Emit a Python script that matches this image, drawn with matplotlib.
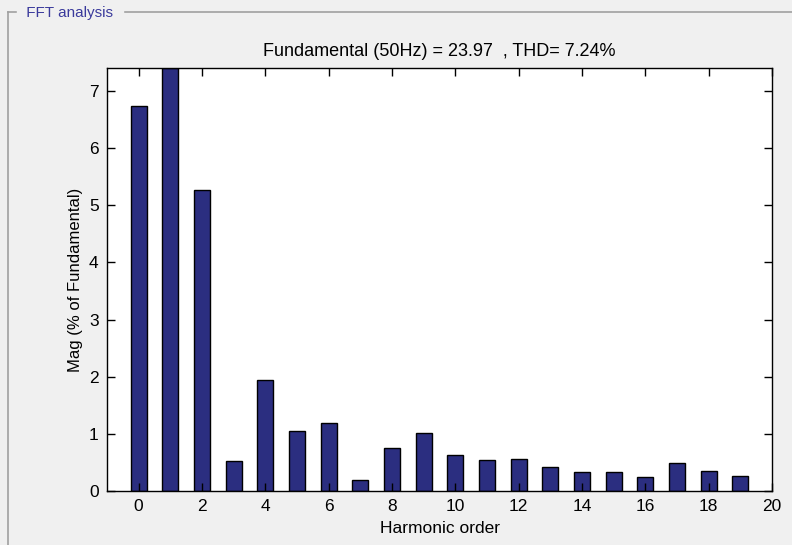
import matplotlib
matplotlib.use("Agg")
import matplotlib.pyplot as plt
from matplotlib.lines import Line2D

plt.rcParams['font.family'] = ['Liberation Sans', 'DejaVu Sans']

harmonic_order = list(range(20))
magnitude = [6.74, 7.40, 5.26, 0.52, 1.94, 1.05, 1.19, 0.20, 0.76, 1.01,
             0.63, 0.54, 0.56, 0.42, 0.33, 0.33, 0.245, 0.49, 0.355, 0.27]
x_ticks = list(range(0, 21, 2))
y_ticks = list(range(0, 8))
title_text = "Fundamental (50Hz) = 23.97  , THD= 7.24%"
panel_title = "FFT analysis"

W, H = 792, 545
fig = plt.figure(figsize=(W / 100, H / 100), dpi=100, facecolor='#F0F0F0')

# panel frame
fig.add_artist(Line2D([8 / W, 8 / W], [1 - 12 / H, 0], color='#A0A0A0', lw=1.2))
fig.add_artist(Line2D([8 / W, 1], [1 - 12 / H, 1 - 12 / H], color='#A0A0A0', lw=1.2))
fig.text(22 / W, 1 - 13 / H, ' ' + panel_title + ' ', color='#3A3A9C', fontsize=11,
         va='center', ha='left', backgroundcolor='#F0F0F0')

ax = fig.add_axes([107 / W, 1 - 491 / H, (772 - 107) / W, (491 - 68) / H])
ax.set_facecolor('white')
ax.bar(harmonic_order, magnitude, width=0.5, color='#2B2E80', edgecolor='black', linewidth=1.0)
ax.set_xlim(-1, 20)
ax.set_ylim(0, 7.4)
ax.set_xticks(x_ticks)
ax.set_yticks(y_ticks)
ax.tick_params(direction='in', top=True, right=True, length=6, width=1, labelsize=12.5, pad=6)
for s in ax.spines.values():
    s.set_linewidth(1)
ax.set_title(title_text, fontsize=13, pad=9)
ax.set_xlabel('Harmonic order', fontsize=12.5, labelpad=5)
ax.set_ylabel('Mag (% of Fundamental)', fontsize=12, labelpad=4)

fig.savefig('out.png', dpi=100, facecolor=fig.get_facecolor())
